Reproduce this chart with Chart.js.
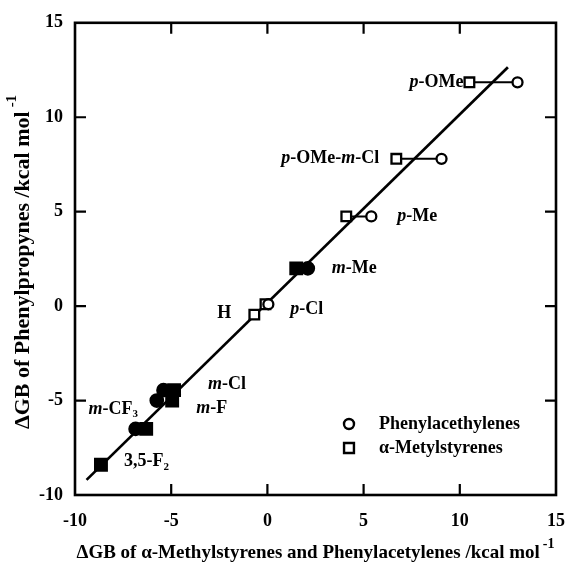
<!DOCTYPE html>
<html><head><meta charset="utf-8">
<script src="https://cdn.jsdelivr.net/npm/chart.js@4.4.1/dist/chart.umd.min.js"></script>
<style>html,body{margin:0;padding:0;background:#fff}#wrap{width:581px;height:568px}</style>
</head><body><div id="wrap"><canvas id="c" width="581" height="568"></canvas></div>
<script>
// ---- data ----
const substituents = ['p-OMe','p-OMe-m-Cl','p-Me','m-Me','H','p-Cl','m-Cl','m-F','m-CF3','3,5-F2'];
const gbPropynes   = [11.85, 7.8, 4.75, 2.0, -0.45, 0.1, -4.45, -5.0, -6.5, -8.4];    // y
const gbStyrenes   = [10.5, 6.7, 4.1, 1.5, -0.68, -0.1, -4.85, -4.95, -6.3, -8.65];  // squares x
const gbAcetylenes = [13.0, 9.05, 5.4, 2.1, null, 0.05, -5.4, -5.75, -6.85, null];   // circles x
const isFilled     = [false,false,false,true,false,false,true,true,true,true];
const fitX = [-9.4, 12.5];
const fitY = [-9.2, 12.65];
const xTicks = [-10, -5, 0, 5, 10, 15];
const yTicks = [-10, -5, 0, 5, 10, 15];
const legendNames = ['Phenylacethylenes', 'α-Metylstyrenes'];
const xTitle = 'ΔGB of α-Methylstyrenes and Phenylacetylenes /kcal mol';
const yTitle = 'ΔGB of Phenylpropynes /kcal mol';
const unitSup = '-1';

// ---- label placement (style, not data) ----
const labelPlace = [
  {at:'sq', dx:-6,  dy:0,   align:'right'},
  {at:'sq', dx:-17, dy:0,   align:'right'},
  {at:'ci', dx:26,  dy:0,   align:'left'},
  {at:'ci', dx:24,  dy:0,   align:'left'},
  {at:'sq', dx:-23, dy:-1,  align:'right'},
  {at:'ci', dx:22,  dy:5,   align:'left'},
  {at:'sq', dx:34,  dy:-6,  align:'left'},
  {at:'sq', dx:24,  dy:8,   align:'left'},
  {at:'ci', dx:-47, dy:-20, align:'left'},
  {at:'sq', dx:23,  dy:-3,  align:'left'}
];

const FONT = 'Liberation Serif, Times New Roman, serif';

function parseLabel(s){
  const parts = [];
  for (let k = 0; k < s.length; k++){
    const c = s[k];
    let style = 'n';
    if ((c === 'p' || c === 'm') && s[k+1] === '-' && (k === 0 || s[k-1] === '-')) style = 'i';
    else if (/\d/.test(c) && k > 0 && /[A-Za-z]/.test(s[k-1])) style = 's';
    if (parts.length && parts[parts.length-1].style === style) parts[parts.length-1].t += c;
    else parts.push({t:c, style});
  }
  return parts;
}
function fontFor(style, size){
  if (style === 'i') return 'italic bold ' + size + 'px ' + FONT;
  if (style === 's') return 'bold ' + Math.round(size*0.62) + 'px ' + FONT;
  return 'bold ' + size + 'px ' + FONT;
}
function drawRich(ctx, s, x, y, align, size){
  const parts = parseLabel(s);
  let w = 0;
  parts.forEach(p => { ctx.font = fontFor(p.style, size); p.w = ctx.measureText(p.t).width; w += p.w; });
  let cx = align === 'right' ? x - w : (align === 'center' ? x - w/2 : x);
  ctx.textBaseline = 'middle'; ctx.textAlign = 'left';
  parts.forEach(p => {
    ctx.font = fontFor(p.style, size);
    ctx.fillText(p.t, cx, p.style === 's' ? y + size*0.32 : y);
    cx += p.w;
  });
}

const sqData = gbStyrenes.map((x, i) => ({x, y: gbPropynes[i]}));
const ciIdx = gbAcetylenes.map((x, i) => x === null ? -1 : i).filter(i => i >= 0);
const ciData = ciIdx.map(i => ({x: gbAcetylenes[i], y: gbPropynes[i]}));

const connectors = [];
gbPropynes.forEach((y, i) => {
  if (gbAcetylenes[i] !== null && !isFilled[i]) {
    connectors.push({
      type:'line', label:'conn'+i, data:[{x:gbStyrenes[i], y}, {x:gbAcetylenes[i], y}],
      borderColor:'#000', borderWidth:2, pointRadius:0, order:5, showLine:true
    });
  }
});

const framePlugin = {
  id:'frame',
  beforeDatasetsDraw(chart){
    const {ctx, chartArea:a, scales:{x, y}} = chart;
    ctx.save();
    ctx.strokeStyle = '#000';
    ctx.lineWidth = 2.6;
    ctx.strokeRect(a.left, a.top, a.right - a.left, a.bottom - a.top);
    ctx.lineWidth = 2.2;
    const L = 11;
    ctx.beginPath();
    x.ticks.forEach(t => {
      const px = x.getPixelForValue(t.value);
      if (px <= a.left + 2 || px >= a.right - 2) return;
      ctx.moveTo(px, a.bottom); ctx.lineTo(px, a.bottom - L);
      ctx.moveTo(px, a.top); ctx.lineTo(px, a.top + L);
    });
    y.ticks.forEach(t => {
      const py = y.getPixelForValue(t.value);
      if (py <= a.top + 2 || py >= a.bottom - 2) return;
      ctx.moveTo(a.left, py); ctx.lineTo(a.left + L, py);
      ctx.moveTo(a.right, py); ctx.lineTo(a.right - L, py);
    });
    ctx.stroke();
    ctx.restore();
  }
};

const annotPlugin = {
  id:'annot',
  afterDatasetsDraw(chart){
    const {ctx, chartArea:a, scales:{x, y}} = chart;
    ctx.save();
    ctx.fillStyle = '#000';
    substituents.forEach((s, i) => {
      const pl = labelPlace[i];
      const vx = pl.at === 'sq' ? gbStyrenes[i] : gbAcetylenes[i];
      const px = x.getPixelForValue(vx) + pl.dx;
      const py = y.getPixelForValue(gbPropynes[i]) + pl.dy;
      drawRich(ctx, s, px, py, pl.align, 18);
    });
    // legend
    const lx = a.right - 207, ly = a.bottom - 71;
    const styles = [
      {pointStyle:'circle', radius:5, rotation:0, borderWidth:2.4},
      {pointStyle:'rect', radius:7, rotation:0, borderWidth:2.4}
    ];
    legendNames.forEach((n, k) => {
      ctx.fillStyle = '#fff'; ctx.strokeStyle = '#000'; ctx.lineWidth = 2.4;
      Chart.helpers.drawPoint(ctx, styles[k], lx, ly + k*24);
      ctx.fillStyle = '#000';
      ctx.font = 'bold 18px ' + FONT; ctx.textBaseline = 'middle'; ctx.textAlign = 'left';
      ctx.fillText(n, lx + 30, ly + k*24);
    });
    // x title
    const tSize = 19, sSize = 14;
    ctx.font = 'bold ' + tSize + 'px ' + FONT;
    const wx = ctx.measureText(xTitle).width;
    ctx.font = 'bold ' + sSize + 'px ' + FONT;
    const ws = ctx.measureText(unitSup).width + 3;
    const sx = (a.left + a.right)/2 - (wx + ws)/2;
    const tyx = 553;
    ctx.font = 'bold ' + tSize + 'px ' + FONT; ctx.textBaseline = 'middle';
    ctx.fillText(xTitle, sx, tyx);
    ctx.font = 'bold ' + sSize + 'px ' + FONT;
    ctx.fillText(unitSup, sx + wx + 3, tyx - 9);
    // y title
    const ySize = 22, ySup = 15;
    ctx.save();
    ctx.translate(23, 262);
    ctx.rotate(-Math.PI/2);
    ctx.font = 'bold ' + ySize + 'px ' + FONT;
    const wy = ctx.measureText(yTitle).width;
    ctx.font = 'bold ' + ySup + 'px ' + FONT;
    const wys = ctx.measureText(unitSup).width + 4;
    const sy = -(wy + wys)/2;
    ctx.font = 'bold ' + ySize + 'px ' + FONT;
    ctx.fillText(yTitle, sy, 0);
    ctx.font = 'bold ' + ySup + 'px ' + FONT;
    ctx.fillText(unitSup, sy + wy + 4, -11);
    ctx.restore();
    ctx.restore();
  }
};

new Chart(document.getElementById('c'), {
  type:'scatter',
  data:{
    datasets:[
      {label:legendNames[1], data:sqData, pointStyle:'rect',
       pointRadius:sqData.map((d,i)=>isFilled[i]?8.2:6.8), pointHoverRadius:sqData.map((d,i)=>isFilled[i]?8.2:6.8),
       backgroundColor:sqData.map((d,i)=>isFilled[i]?'#000':'#fff'), borderColor:'#000', borderWidth:2.3, order:1},
      {label:legendNames[0], data:ciData, pointStyle:'circle',
       pointRadius:ciIdx.map(i=>isFilled[i]?6.2:5), pointHoverRadius:ciIdx.map(i=>isFilled[i]?6.2:5),
       backgroundColor:ciIdx.map(i=>isFilled[i]?'#000':'#fff'), borderColor:'#000', borderWidth:2.3, order:0},
      ...connectors,
      {type:'line', label:'fit', data:fitX.map((x,i)=>({x, y:fitY[i]})), borderColor:'#000', borderWidth:2.7,
       pointRadius:0, showLine:true, order:10}
    ]
  },
  options:{
    responsive:false, animation:false, devicePixelRatio:1,
    layout:{padding:{top:22, right:23, left:0, bottom:0}},
    plugins:{legend:{display:false}, tooltip:{enabled:false}},
    scales:{
      x:{type:'linear', min:-10, max:15,
         afterBuildTicks:s=>{ s.ticks = xTicks.map(v=>({value:v})); },
         afterFit:s=>{ s.height = 73; },
         grid:{display:false, drawTicks:false}, border:{display:false},
         ticks:{color:'#000', padding:16, font:{family:FONT, size:18, weight:'bold'}, maxRotation:0, autoSkip:false}},
      y:{type:'linear', min:-10, max:15,
         afterBuildTicks:s=>{ s.ticks = yTicks.map(v=>({value:v})); },
         afterFit:s=>{ s.width = 75; },
         grid:{display:false, drawTicks:false}, border:{display:false},
         ticks:{color:'#000', padding:12, font:{family:FONT, size:18, weight:'bold'}, autoSkip:false}}
    }
  },
  plugins:[framePlugin, annotPlugin]
});
</script>
</body></html>
